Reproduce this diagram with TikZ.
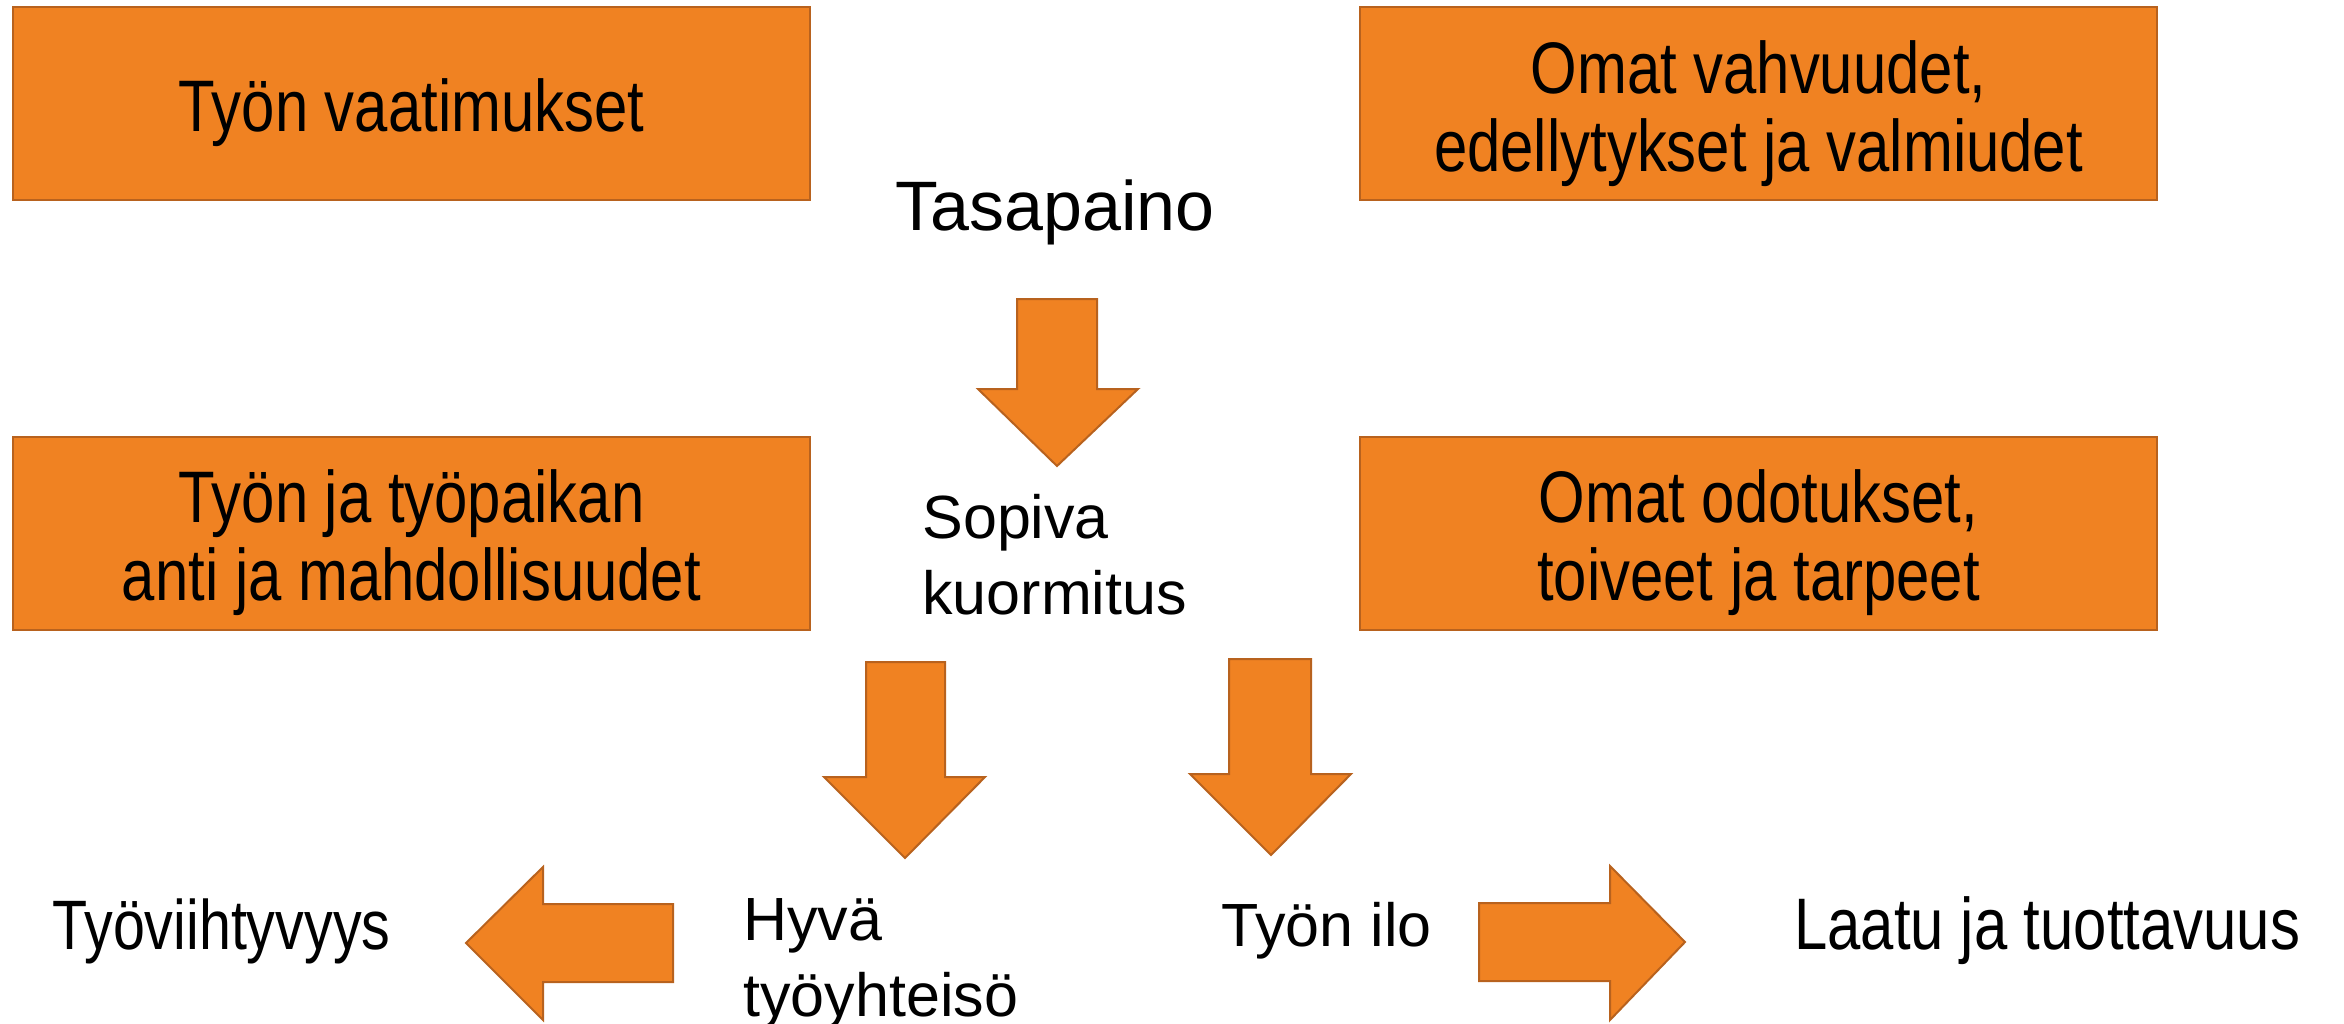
\documentclass[tikz,border=0pt]{standalone}
\usepackage{fontspec}
\setmainfont{Liberation Sans}
\newfontfamily\narrowfont[FakeStretch=0.82]{Liberation Sans}
\definecolor{orfill}{HTML}{F08222}
\definecolor{ordraw}{HTML}{B8621E}
\begin{document}
\begin{tikzpicture}[x=0.5pt,y=-0.5pt,
  box/.style={draw=ordraw, fill=orfill, line width=1pt, minimum width=398.5pt, minimum height=96.5pt, inner sep=0pt},
  boxtext/.style={inner sep=0pt, align=center, font=\narrowfont\fontsize{36.5}{39}\selectfont},
  blockarrow/.style={draw=ordraw, fill=orfill, line width=1pt, line join=miter},
  narrowlabel/.style={inner sep=0pt, align=left, font=\narrowfont\fontsize{36}{39}\selectfont},
  label/.style={inner sep=0pt, align=left, font=\fontsize{30.5}{38}\selectfont}]
\useasboundingbox (0,0) rectangle (2344,1023);
\node[box] (vaat) at (411.5,103.5) {};
\node[box] (vahv) at (1758.5,103.5) {};
\node[box] (anti) at (411.5,533) {};
\node[box] (odot) at (1758.5,533) {};
\node[boxtext] (vaatt) at ([yshift=-4.5pt]vaat.center) {Työn vaatimukset};
\node[boxtext] (vahvt) at ([yshift=-5pt]vahv.center) {Omat vahvuudet,\\edellytykset ja valmiudet};
\node[boxtext] (antit) at ([yshift=-5pt]anti.center) {Työn ja työpaikan\\anti ja mahdollisuudet};
\node[boxtext] (odott) at ([yshift=-5pt]odot.center) {Omat odotukset,\\toiveet ja tarpeet};
\node[inner sep=0pt, font=\fontsize{35}{40}\selectfont] (tasa) at (1055,212) {Tasapaino};
\node[label, anchor=west] (sopiva) at (922,555) {Sopiva\\kuormitus};
\node[label, anchor=west] (hyva) at (743,964) {Hyvä\\työyhteisö};
\node[label, anchor=west] (ilo) at (1221,931) {Työn ilo};
\node[narrowlabel, anchor=west, font=\narrowfont\fontsize{35}{39}\selectfont] (viiht) at (52,931) {Työviihtyvyys};
\node[narrowlabel, anchor=west, font=\narrowfont\fontsize{36.5}{39}\selectfont] (laatu) at (1794,931) {Laatu ja tuottavuus};
% block arrows
\draw[blockarrow] (1017,299) -- (1097,299) -- (1097,389) -- (1138,389) -- (1057,466) -- (978,389) -- (1017,389) -- cycle;
\draw[blockarrow] (866,662) -- (945,662) -- (945,777) -- (985,777) -- (905,858) -- (824,777) -- (866,777) -- cycle;
\draw[blockarrow] (1229,659) -- (1311,659) -- (1311,774) -- (1351,774) -- (1271,855) -- (1190,774) -- (1229,774) -- cycle;
\draw[blockarrow] (673,904) -- (673,982) -- (543,982) -- (543,1020) -- (466,943) -- (543,867) -- (543,904) -- cycle;
\draw[blockarrow] (1479,903) -- (1610,903) -- (1610,866) -- (1685,942) -- (1610,1020) -- (1610,981) -- (1479,981) -- cycle;
\end{tikzpicture}
\end{document}
